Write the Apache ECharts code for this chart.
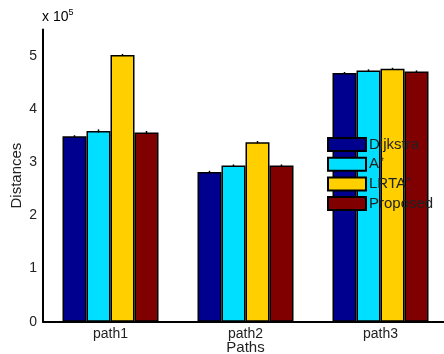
<!DOCTYPE html>
<html>
<head>
<meta charset="utf-8">
<script src="https://cdn.jsdelivr.net/npm/echarts@6/dist/echarts.min.js"></script>
<style>
  html, body { margin: 0; padding: 0; background: #fff; }
  #chart { width: 444px; height: 354px; }
</style>
</head>
<body>
<div id="chart"></div>
<script>
// Path lengths (in units of 10^5) per algorithm
var categories = ['path1', 'path2', 'path3'];
var seriesNames = ['Dijkstra', 'A*', 'LRTA*', 'Proposed'];
var dijkstra = [3.49, 2.82, 4.68];
var aStar = [3.59, 2.94, 4.73];
var lrtaStar = [5.02, 3.38, 4.76];
var proposed = [3.56, 2.94, 4.71];
// Spread shown as small error whiskers on top of each bar
var dijkstraErr = [0.02, 0.02, 0.02];
var aStarErr = [0.03, 0.02, 0.02];
var lrtaStarErr = [0.02, 0.02, 0.02];
var proposedErr = [0.03, 0.02, 0.02];
var yTicks = [0, 1, 2, 3, 4, 5];

var colors = ['#00008f', '#00dfff', '#ffcf00', '#800000'];
var values = [dijkstra, aStar, lrtaStar, proposed];
var errors = [dijkstraErr, aStarErr, lrtaStarErr, proposedErr];
var BAR_W = 24;
var FONT = 'Liberation Sans, Arial, sans-serif';

var chart = echarts.init(document.getElementById('chart'));

var series = [];
values.forEach(function (vals, i) {
  series.push({
    name: seriesNames[i],
    type: 'bar',
    data: vals,
    barWidth: BAR_W,
    barGap: '0%',
    itemStyle: { color: colors[i], borderColor: '#000', borderWidth: 1.5 },
    emphasis: { disabled: true }
  });
});
// error whiskers drawn at the centre of each bar
values.forEach(function (vals, i) {
  var offset = (i - 1.5) * BAR_W;
  series.push({
    type: 'custom',
    silent: true,
    data: vals.map(function (v, j) { return [j, v, errors[i][j]]; }),
    renderItem: function (params, api) {
      var c = api.value(0), v = api.value(1), e = api.value(2);
      var hi = api.coord([c, v + e]);
      var lo = api.coord([c, v - e]);
      var x = hi[0] + offset;
      return {
        type: 'line',
        shape: { x1: x, y1: hi[1], x2: x, y2: lo[1] },
        style: { stroke: '#000', lineWidth: 1.5 }
      };
    },
    z: 5
  });
});

var supRich = {
  base: { fontFamily: FONT, fontSize: 15, lineHeight: 13, color: '#222' },
  sup: { fontFamily: FONT, fontSize: 10, lineHeight: 10, color: '#222', verticalAlign: 'top', padding: [0, 0, 4, 1] }
};

chart.setOption({
  animation: false,
  grid: { left: 43, top: 29.5, width: 405, height: 292.2, containLabel: false, outerBoundsMode: 'none' },
  legend: {
    left: 327,
    top: 137,
    padding: 0,
    orient: 'vertical',
    icon: 'rect',
    itemWidth: 38,
    itemHeight: 13,
    itemGap: 4.7,
    selectedMode: false,
    data: seriesNames,
    textStyle: { fontFamily: FONT, fontSize: 15, lineHeight: 13, color: '#222', padding: [0, 0, 0, -2], rich: supRich },
    formatter: function (name) {
      if (name.slice(-1) === '*') {
        return '{base|' + name.slice(0, -1) + '}{sup|*}';
      }
      return '{base|' + name + '}';
    }
  },
  xAxis: {
    type: 'category',
    data: categories,
    name: 'Paths',
    nameLocation: 'middle',
    nameGap: 19,
    nameMoveOverlap: false,
    nameTextStyle: { fontFamily: FONT, fontSize: 15, color: '#222' },
    axisLine: { lineStyle: { color: '#000', width: 2 } },
    axisTick: { show: false },
    axisLabel: { fontFamily: FONT, fontSize: 14, color: '#222', margin: 5 }
  },
  yAxis: {
    type: 'value',
    min: 0,
    max: 5.5,
    interval: 1,
    name: 'Distances',
    nameLocation: 'middle',
    nameGap: 19,
    nameMoveOverlap: false,
    nameTextStyle: { fontFamily: FONT, fontSize: 15, color: '#222' },
    axisLine: { show: true, lineStyle: { color: '#000', width: 2 } },
    axisTick: { show: false },
    splitLine: { show: false },
    axisLabel: {
      fontFamily: FONT, fontSize: 14, color: '#222', margin: 6,
      formatter: function (v) { return yTicks.indexOf(v) >= 0 ? String(v) : ''; }
    }
  },
  graphic: [{
    type: 'text',
    left: 42,
    top: 8,
    style: {
      text: '{base|x 10}{sup|5}',
      rich: {
        base: { fontFamily: FONT, fontSize: 14, color: '#222' },
        sup: { fontFamily: FONT, fontSize: 9, color: '#222', verticalAlign: 'top', padding: [0, 0, 9, 0] }
      }
    }
  }],
  series: series
});
</script>
</body>
</html>
